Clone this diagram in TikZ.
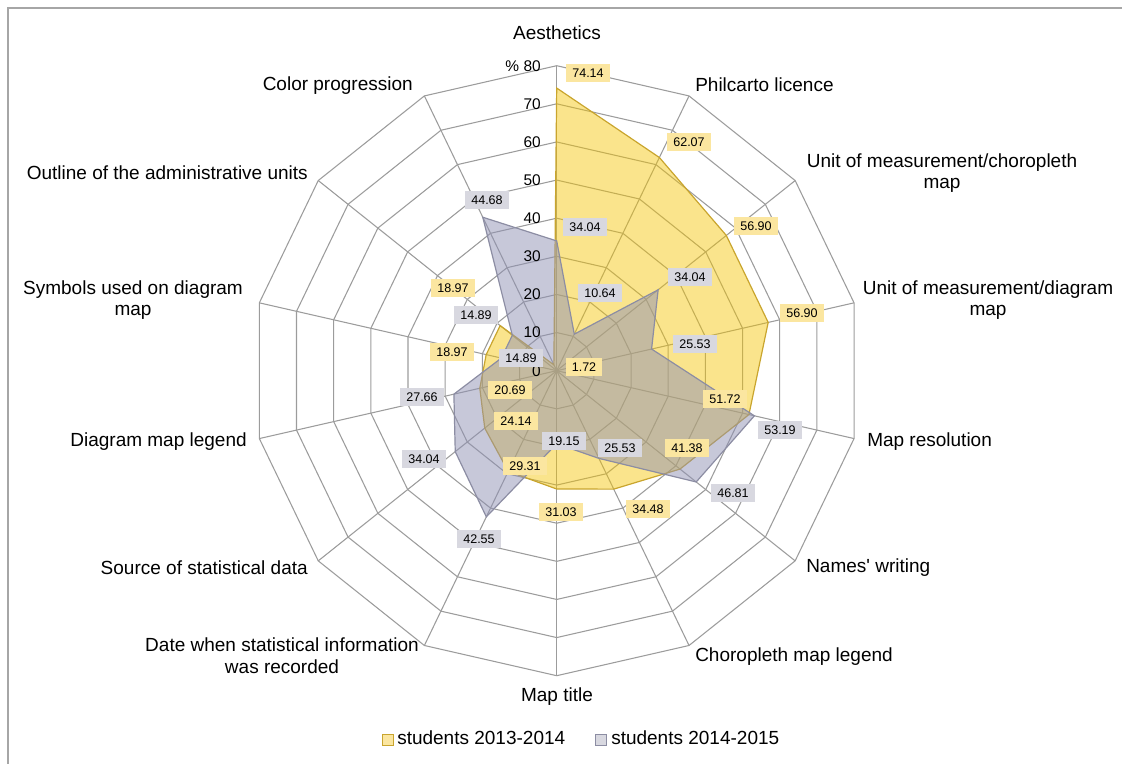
\documentclass[tikz,border=0pt]{standalone}
\usepackage{fontspec}
\setmainfont{Liberation Sans}

\definecolor{framegray}{HTML}{A6A6A6}
\definecolor{gridgray}{HTML}{9C9C9C}
\definecolor{serieyellow}{HTML}{F5C400}
\definecolor{edgeyellow}{HTML}{C9A52E}
\definecolor{seriegray}{HTML}{8F91B4}
\definecolor{edgegray}{HTML}{8C8DA3}
\definecolor{boxyellow}{HTML}{FBE6A0}
\definecolor{boxgray}{HTML}{D8D8E0}

\newcommand{\pxper}{3.8125}

\begin{document}
\begin{tikzpicture}[x = 0.75pt, y = -0.75pt,
  gridline/.style = {draw = gridgray, line width = 0.8pt},
  catlabel/.style = {inner sep = 0pt, align = center, font = \fontsize{14.25}{16.2}\selectfont},
  ticklabel/.style = {inner sep = 0pt, anchor = east, font = \fontsize{11.6}{13}\selectfont},
  yval/.style = {fill = boxyellow, inner xsep = 4.5pt, inner ysep = 0pt, minimum height = 13.5pt, font = \fontsize{9.4}{11}\selectfont},
  gval/.style = {yval, fill = boxgray},
  legbox/.style = {minimum size = 8.25pt, inner sep = 0pt, line width = 0.6pt},
  legtext/.style = {inner sep = 0pt, anchor = west, font = \fontsize{14.25}{16}\selectfont}]

\useasboundingbox (0,0) rectangle (1122,764);
\draw [framegray, line width = 1pt] (1130,8) -- (8,8) -- (8,770);

\begin{scope}[shift = {(556.7,370.7)}]
% rings and spokes
\foreach \v in {10,20,...,80}
  \draw [gridline] (-90:{\v*\pxper}) \foreach \k in {1,...,13} { -- ({-90+\k*360/14}:{\v*\pxper}) } -- cycle;
\foreach \k in {0,...,13}
  \draw [gridline] (0,0) -- ({-90+\k*360/14}:305);

% students 2013-2014
\draw [draw = edgeyellow, line width = 0.9pt, fill = serieyellow, fill opacity = 0.45]
  (-90:{74.14*\pxper}) \foreach \v [count = \k] in {62.07,56.90,56.90,51.72,41.38,34.48,31.03,29.31,24.14,20.69,18.97,18.97,1.72} { -- ({-90+\k*360/14}:{\v*\pxper}) } -- cycle;

% students 2014-2015
\draw [draw = edgegray, line width = 0.9pt, fill = seriegray, fill opacity = 0.5]
  (-90:{34.04*\pxper}) \foreach \v [count = \k] in {10.64,34.04,25.53,53.19,46.81,25.53,19.15,42.55,34.04,27.66,14.89,14.89,44.68} { -- ({-90+\k*360/14}:{\v*\pxper}) } -- cycle;
\end{scope}

% axis values
\foreach \v in {0,10,...,70}
  \node [ticklabel] (t\v) at (541,{370.7-\v*\pxper}) {\v};
\node [ticklabel] (t80) at (541,65.7) {\% 80};

% categories
\node [catlabel] (aesthetics) at (557,33) {Aesthetics};
\node [catlabel, anchor = west] (licence) at (695,85) {Philcarto licence};
\node [catlabel] (unitchoro) at (942,173) {Unit of measurement/choropleth\\map};
\node [catlabel] (unitdiag) at (988,300) {Unit of measurement/diagram\\map};
\node [catlabel, anchor = west] (resolution) at (867,442) {Map resolution};
\node [catlabel, anchor = west] (names) at (806,568) {Names\textquotesingle{} writing};
\node [catlabel, anchor = west] (chorolegend) at (695,657) {Choropleth map legend};
\node [catlabel] (title) at (557,697) {Map title};
\node [catlabel] (date) at (282,656) {Date when statistical information\\was recorded};
\node [catlabel, anchor = east] (source) at (308,568) {Source of statistical data};
\node [catlabel, anchor = east] (diaglegend) at (247,442) {Diagram map legend};
\node [catlabel] (symbols) at (133,300) {Symbols used on diagram\\map};
\node [catlabel, anchor = east] (outline) at (308,173) {Outline of the administrative units};
\node [catlabel, anchor = east] (colorprog) at (413,86) {Color progression};

% data labels 2013-2014
\node [yval] (y0) at (588,73) {74.14};
\node [yval] (y1) at (689,142) {62.07};
\node [yval] (y2) at (756,226) {56.90};
\node [yval] (y3) at (802,313) {56.90};
\node [yval] (y4) at (725,399) {51.72};
\node [yval] (y5) at (687,448) {41.38};
\node [yval] (y6) at (648,509) {34.48};
\node [yval] (y7) at (561,512) {31.03};
\node [yval] (y8) at (525,466) {29.31};
\node [yval] (y9) at (516,421) {24.14};
\node [yval] (y10) at (510,390) {20.69};
\node [yval] (y11) at (452,352) {18.97};
\node [yval] (y12) at (453,288) {18.97};
\node [yval] (y13) at (584,367) {1.72};

% data labels 2014-2015
\node [gval] (g0) at (585,227) {34.04};
\node [gval] (g1) at (600,293) {10.64};
\node [gval] (g2) at (690,277) {34.04};
\node [gval] (g3) at (695,344) {25.53};
\node [gval] (g4) at (780,430) {53.19};
\node [gval] (g5) at (733,493) {46.81};
\node [gval] (g6) at (620,448) {25.53};
\node [gval] (g7) at (564,441) {19.15};
\node [gval] (g8) at (479,539) {42.55};
\node [gval] (g9) at (424,459) {34.04};
\node [gval] (g10) at (422,397) {27.66};
\node [gval] (g11) at (521,358) {14.89};
\node [gval] (g12) at (476,315) {14.89};
\node [gval] (g13) at (487,200) {44.68};

% legend
\node [legbox, draw = edgeyellow, fill = boxyellow] (ysq) at (388,740) {};
\node [legtext] (ytext) at (397,738) {students 2013-2014};
\node [legbox, draw = edgegray, fill = boxgray] (gsq) at (601,740) {};
\node [legtext] (gtext) at (611,738) {students 2014-2015};
\end{tikzpicture}
\end{document}
